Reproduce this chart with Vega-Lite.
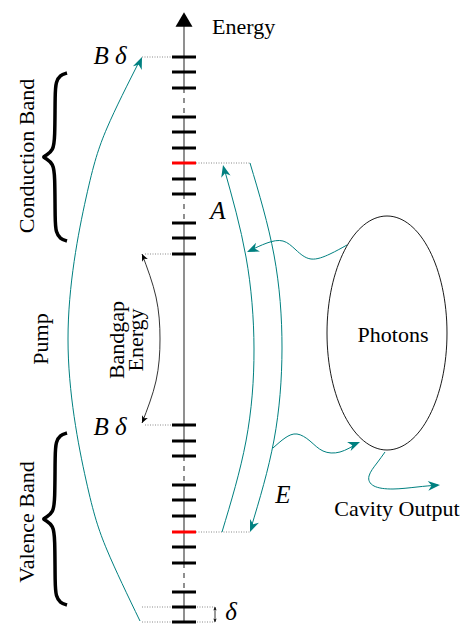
{
  "$schema": "https://vega.github.io/schema/vega-lite/v6.json",
  "width": 471,
  "height": 624,
  "padding": 0,
  "autosize": {"type": "none"},
  "background": "white",
  "config": {"view": {"stroke": null}},
  "datasets": {
    "axisSegs": [
      {"y": 24, "y2": 88, "seg": "solid"},
      {"y": 88, "y2": 117, "seg": "dashed"},
      {"y": 117, "y2": 194, "seg": "solid"},
      {"y": 194, "y2": 223, "seg": "dashed"},
      {"y": 223, "y2": 456, "seg": "solid"},
      {"y": 456, "y2": 485, "seg": "dashed"},
      {"y": 485, "y2": 563, "seg": "solid"},
      {"y": 563, "y2": 592, "seg": "dashed"},
      {"y": 592, "y2": 623, "seg": "solid"}
    ],
    "levels": [
      {"y": 57, "kind": "level"}, {"y": 72, "kind": "level"}, {"y": 88, "kind": "level"},
      {"y": 117, "kind": "level"}, {"y": 132, "kind": "level"}, {"y": 148, "kind": "level"},
      {"y": 163, "kind": "fermi"}, {"y": 179, "kind": "level"}, {"y": 194, "kind": "level"},
      {"y": 223, "kind": "level"}, {"y": 238, "kind": "level"}, {"y": 254, "kind": "level"},
      {"y": 425, "kind": "level"}, {"y": 441, "kind": "level"}, {"y": 456, "kind": "level"},
      {"y": 485, "kind": "level"}, {"y": 500, "kind": "level"}, {"y": 516, "kind": "level"},
      {"y": 532, "kind": "fermi"}, {"y": 547, "kind": "level"}, {"y": 563, "kind": "level"},
      {"y": 592, "kind": "level"}, {"y": 607, "kind": "level"}, {"y": 622, "kind": "level"}
    ],
    "guides": [
      {"x": 142, "x2": 172, "y": 57},
      {"x": 196, "x2": 250, "y": 163},
      {"x": 145, "x2": 172, "y": 254},
      {"x": 145, "x2": 172, "y": 425},
      {"x": 196, "x2": 250, "y": 532},
      {"x": 142, "x2": 215, "y": 607},
      {"x": 142, "x2": 215, "y": 622}
    ],
    "tealCurves": [
      {"id": "pump", "i": 0, "x": 140, "y": 621},
      {"id": "pump", "i": 1, "x": 107, "y": 550},
      {"id": "pump", "i": 2, "x": 86, "y": 480},
      {"id": "pump", "i": 3, "x": 68, "y": 339},
      {"id": "pump", "i": 4, "x": 86, "y": 198},
      {"id": "pump", "i": 5, "x": 107, "y": 128},
      {"id": "pump", "i": 6, "x": 140, "y": 60},
      {"id": "A", "i": 0, "x": 222, "y": 532},
      {"id": "A", "i": 1, "x": 246, "y": 441},
      {"id": "A", "i": 2, "x": 254, "y": 349},
      {"id": "A", "i": 3, "x": 246, "y": 257},
      {"id": "A", "i": 4, "x": 224, "y": 168},
      {"id": "E", "i": 0, "x": 250, "y": 163},
      {"id": "E", "i": 1, "x": 274, "y": 255},
      {"id": "E", "i": 2, "x": 282, "y": 348},
      {"id": "E", "i": 3, "x": 274, "y": 440},
      {"id": "E", "i": 4, "x": 251, "y": 528},
      {"id": "w1", "i": 0, "x": 347, "y": 245},
      {"id": "w1", "i": 1, "x": 330, "y": 254},
      {"id": "w1", "i": 2, "x": 311, "y": 259},
      {"id": "w1", "i": 3, "x": 296, "y": 250},
      {"id": "w1", "i": 4, "x": 283, "y": 241},
      {"id": "w1", "i": 5, "x": 267, "y": 243},
      {"id": "w1", "i": 6, "x": 249, "y": 251},
      {"id": "w2", "i": 0, "x": 273, "y": 448},
      {"id": "w2", "i": 1, "x": 285, "y": 438},
      {"id": "w2", "i": 2, "x": 297, "y": 434},
      {"id": "w2", "i": 3, "x": 310, "y": 441},
      {"id": "w2", "i": 4, "x": 323, "y": 451},
      {"id": "w2", "i": 5, "x": 340, "y": 452},
      {"id": "w2", "i": 6, "x": 358, "y": 443},
      {"id": "w3", "i": 0, "x": 385, "y": 452},
      {"id": "w3", "i": 1, "x": 377, "y": 463},
      {"id": "w3", "i": 2, "x": 369, "y": 476},
      {"id": "w3", "i": 3, "x": 374, "y": 486},
      {"id": "w3", "i": 4, "x": 393, "y": 489},
      {"id": "w3", "i": 5, "x": 417, "y": 487},
      {"id": "w3", "i": 6, "x": 438, "y": 485}
    ],
    "tealHeads": [
      {"x": 142, "y": 57, "dir": 293},
      {"x": 223, "y": 165, "dir": 256},
      {"x": 250, "y": 532, "dir": 112},
      {"x": 247, "y": 252, "dir": 156},
      {"x": 360, "y": 442, "dir": 338},
      {"x": 440, "y": 485, "dir": 356}
    ],
    "gapCurve": [
      {"i": 0, "x": 142, "y": 254},
      {"i": 1, "x": 156, "y": 297},
      {"i": 2, "x": 160, "y": 339},
      {"i": 3, "x": 156, "y": 381},
      {"i": 4, "x": 142, "y": 423}
    ],
    "blackHeads": [
      {"x": 142, "y": 254, "dir": 245},
      {"x": 142, "y": 423, "dir": 115}
    ],
    "deltaHeads": [
      {"x": 215, "y": 607, "dir": 270},
      {"x": 215, "y": 622, "dir": 90}
    ],
    "braces": [
      {"id": "cb", "i": 0, "x": 67, "y": 73},
      {"id": "cb", "i": 1, "x": 60, "y": 75},
      {"id": "cb", "i": 2, "x": 56, "y": 82},
      {"id": "cb", "i": 3, "x": 55, "y": 92},
      {"id": "cb", "i": 4, "x": 55, "y": 140},
      {"id": "cb", "i": 5, "x": 53, "y": 150},
      {"id": "cb", "i": 6, "x": 47, "y": 155},
      {"id": "cb", "i": 7, "x": 42, "y": 157},
      {"id": "cb", "i": 8, "x": 47, "y": 159},
      {"id": "cb", "i": 9, "x": 53, "y": 164},
      {"id": "cb", "i": 10, "x": 55, "y": 174},
      {"id": "cb", "i": 11, "x": 55, "y": 222},
      {"id": "cb", "i": 12, "x": 56, "y": 232},
      {"id": "cb", "i": 13, "x": 60, "y": 239},
      {"id": "cb", "i": 14, "x": 67, "y": 241},
      {"id": "vb", "i": 0, "x": 67, "y": 433},
      {"id": "vb", "i": 1, "x": 60, "y": 435},
      {"id": "vb", "i": 2, "x": 56, "y": 442},
      {"id": "vb", "i": 3, "x": 55, "y": 452},
      {"id": "vb", "i": 4, "x": 55, "y": 502},
      {"id": "vb", "i": 5, "x": 53, "y": 512},
      {"id": "vb", "i": 6, "x": 47, "y": 517},
      {"id": "vb", "i": 7, "x": 42, "y": 519},
      {"id": "vb", "i": 8, "x": 47, "y": 521},
      {"id": "vb", "i": 9, "x": 53, "y": 526},
      {"id": "vb", "i": 10, "x": 55, "y": 536},
      {"id": "vb", "i": 11, "x": 55, "y": 586},
      {"id": "vb", "i": 12, "x": 56, "y": 596},
      {"id": "vb", "i": 13, "x": 60, "y": 603},
      {"id": "vb", "i": 14, "x": 67, "y": 605}
    ],
    "photons": [{"x": 387, "y": 333}],
    "axisTip": [{"x": 184, "y": 19.5}],
    "leftText": [
      {"text": "Energy", "x": 212, "y": 27}
    ],
    "plainText": [
      {"text": "Photons", "x": 393, "y": 335},
      {"text": "Cavity Output", "x": 397, "y": 509}
    ],
    "italicText": [
      {"text": "B δ", "x": 110, "y": 56},
      {"text": "B δ", "x": 110, "y": 427},
      {"text": "A", "x": 218, "y": 211},
      {"text": "E", "x": 283, "y": 495},
      {"text": "δ", "x": 231, "y": 612}
    ],
    "rotText": [
      {"text": "Conduction Band", "x": 27, "y": 156},
      {"text": "Pump", "x": 41, "y": 339},
      {"text": "Valence Band", "x": 27, "y": 522},
      {"text": "Bandgap", "x": 117, "y": 340},
      {"text": "Energy", "x": 136, "y": 340}
    ]
  },
  "layer": [
    {
      "data": {"name": "guides"},
      "mark": {"type": "rule", "color": "#8a8a8a", "strokeWidth": 1, "strokeDash": [1, 1.5]},
      "encoding": {
        "x": {"field": "x", "type": "quantitative", "scale": {"domain": [0, 471], "nice": false, "zero": false}, "axis": null},
        "x2": {"field": "x2"},
        "y": {"field": "y", "type": "quantitative", "scale": {"domain": [0, 624], "nice": false, "zero": false, "reverse": true}, "axis": null}
      }
    },
    {
      "data": {"name": "axisSegs"},
      "mark": {"type": "rule", "color": "#555555", "strokeWidth": 1.3},
      "encoding": {
        "x": {"datum": 184, "type": "quantitative", "scale": {"domain": [0, 471], "nice": false, "zero": false}, "axis": null},
        "y": {"field": "y", "type": "quantitative", "scale": {"domain": [0, 624], "nice": false, "zero": false, "reverse": true}, "axis": null},
        "y2": {"field": "y2"},
        "strokeDash": {"field": "seg", "type": "nominal", "scale": {"domain": ["solid", "dashed"], "range": [[1, 0], [5, 5]]}, "legend": null}
      }
    },
    {
      "data": {"name": "axisTip"},
      "mark": {"type": "point", "shape": "triangle-up", "size": 289, "filled": true, "color": "black", "opacity": 1},
      "encoding": {
        "x": {"field": "x", "type": "quantitative", "scale": {"domain": [0, 471], "nice": false, "zero": false}, "axis": null},
        "y": {"field": "y", "type": "quantitative", "scale": {"domain": [0, 624], "nice": false, "zero": false, "reverse": true}, "axis": null}
      }
    },
    {
      "data": {"name": "levels"},
      "mark": {"type": "rule", "strokeWidth": 3},
      "encoding": {
        "x": {"datum": 172, "type": "quantitative", "scale": {"domain": [0, 471], "nice": false, "zero": false}, "axis": null},
        "x2": {"datum": 196},
        "y": {"field": "y", "type": "quantitative", "scale": {"domain": [0, 624], "nice": false, "zero": false, "reverse": true}, "axis": null},
        "color": {"field": "kind", "type": "nominal", "scale": {"domain": ["level", "fermi"], "range": ["black", "#ff0000"]}, "legend": null}
      }
    },
    {
      "data": {"name": "tealCurves"},
      "mark": {"type": "line", "interpolate": "natural", "color": "#008080", "strokeWidth": 1},
      "encoding": {
        "x": {"field": "x", "type": "quantitative", "scale": {"domain": [0, 471], "nice": false, "zero": false}, "axis": null},
        "y": {"field": "y", "type": "quantitative", "scale": {"domain": [0, 624], "nice": false, "zero": false, "reverse": true}, "axis": null},
        "detail": {"field": "id"},
        "order": {"field": "i", "type": "quantitative"}
      }
    },
    {
      "data": {"name": "gapCurve"},
      "mark": {"type": "line", "interpolate": "natural", "color": "black", "strokeWidth": 0.8},
      "encoding": {
        "x": {"field": "x", "type": "quantitative", "scale": {"domain": [0, 471], "nice": false, "zero": false}, "axis": null},
        "y": {"field": "y", "type": "quantitative", "scale": {"domain": [0, 624], "nice": false, "zero": false, "reverse": true}, "axis": null},
        "order": {"field": "i", "type": "quantitative"}
      }
    },
    {
      "data": {"name": "braces"},
      "mark": {"type": "line", "interpolate": "basis", "color": "black", "strokeWidth": 3.5},
      "encoding": {
        "x": {"field": "x", "type": "quantitative", "scale": {"domain": [0, 471], "nice": false, "zero": false}, "axis": null},
        "y": {"field": "y", "type": "quantitative", "scale": {"domain": [0, 624], "nice": false, "zero": false, "reverse": true}, "axis": null},
        "detail": {"field": "id"},
        "order": {"field": "i", "type": "quantitative"}
      }
    },
    {
      "data": {"name": "tealHeads"},
      "mark": {"type": "point", "shape": "M0,0 L-2,-0.8 L-1.4,0 L-2,0.8 Z", "size": 144, "filled": true, "color": "#008080", "opacity": 1},
      "encoding": {
        "x": {"field": "x", "type": "quantitative", "scale": {"domain": [0, 471], "nice": false, "zero": false}, "axis": null},
        "y": {"field": "y", "type": "quantitative", "scale": {"domain": [0, 624], "nice": false, "zero": false, "reverse": true}, "axis": null},
        "angle": {"field": "dir", "type": "quantitative", "scale": null}
      }
    },
    {
      "data": {"name": "blackHeads"},
      "mark": {"type": "point", "shape": "M0,0 L-2,-0.9 L-1.5,0 L-2,0.9 Z", "size": 49, "filled": true, "color": "black", "opacity": 1},
      "encoding": {
        "x": {"field": "x", "type": "quantitative", "scale": {"domain": [0, 471], "nice": false, "zero": false}, "axis": null},
        "y": {"field": "y", "type": "quantitative", "scale": {"domain": [0, 624], "nice": false, "zero": false, "reverse": true}, "axis": null},
        "angle": {"field": "dir", "type": "quantitative", "scale": null}
      }
    },
    {
      "data": {"name": "deltaHeads"},
      "mark": {"type": "rule", "color": "black", "strokeWidth": 0.8},
      "encoding": {
        "x": {"field": "x", "type": "quantitative", "scale": {"domain": [0, 471], "nice": false, "zero": false}, "axis": null},
        "y": {"aggregate": "min", "field": "y", "type": "quantitative", "scale": {"domain": [0, 624], "nice": false, "zero": false, "reverse": true}, "axis": null},
        "y2": {"aggregate": "max", "field": "y"}
      }
    },
    {
      "data": {"name": "deltaHeads"},
      "mark": {"type": "point", "shape": "M0,0 L-2,-1 L-1.5,0 L-2,1 Z", "size": 12, "filled": true, "color": "black", "opacity": 1},
      "encoding": {
        "x": {"field": "x", "type": "quantitative", "scale": {"domain": [0, 471], "nice": false, "zero": false}, "axis": null},
        "y": {"field": "y", "type": "quantitative", "scale": {"domain": [0, 624], "nice": false, "zero": false, "reverse": true}, "axis": null},
        "angle": {"field": "dir", "type": "quantitative", "scale": null}
      }
    },
    {
      "data": {"name": "photons"},
      "mark": {"type": "point", "shape": "M0,-1 C0.2832,-1 0.5128,-0.5523 0.5128,0 C0.5128,0.5523 0.2832,1 0,1 C-0.2832,1 -0.5128,0.5523 -0.5128,0 C-0.5128,-0.5523 -0.2832,-1 0,-1 Z", "size": 54756, "filled": false, "color": "black", "strokeWidth": 0.9, "opacity": 1},
      "encoding": {
        "x": {"field": "x", "type": "quantitative", "scale": {"domain": [0, 471], "nice": false, "zero": false}, "axis": null},
        "y": {"field": "y", "type": "quantitative", "scale": {"domain": [0, 624], "nice": false, "zero": false, "reverse": true}, "axis": null}
      }
    },
    {
      "data": {"name": "leftText"},
      "mark": {"type": "text", "font": "Liberation Serif", "fontSize": 22, "baseline": "middle", "align": "left", "color": "black"},
      "encoding": {
        "x": {"field": "x", "type": "quantitative", "scale": {"domain": [0, 471], "nice": false, "zero": false}, "axis": null},
        "y": {"field": "y", "type": "quantitative", "scale": {"domain": [0, 624], "nice": false, "zero": false, "reverse": true}, "axis": null},
        "text": {"field": "text"}
      }
    },
    {
      "data": {"name": "plainText"},
      "mark": {"type": "text", "font": "Liberation Serif", "fontSize": 22, "baseline": "middle", "align": "center", "color": "black"},
      "encoding": {
        "x": {"field": "x", "type": "quantitative", "scale": {"domain": [0, 471], "nice": false, "zero": false}, "axis": null},
        "y": {"field": "y", "type": "quantitative", "scale": {"domain": [0, 624], "nice": false, "zero": false, "reverse": true}, "axis": null},
        "text": {"field": "text"}
      }
    },
    {
      "data": {"name": "italicText"},
      "mark": {"type": "text", "font": "Liberation Serif", "fontStyle": "italic", "fontSize": 25, "baseline": "middle", "align": "center", "color": "black"},
      "encoding": {
        "x": {"field": "x", "type": "quantitative", "scale": {"domain": [0, 471], "nice": false, "zero": false}, "axis": null},
        "y": {"field": "y", "type": "quantitative", "scale": {"domain": [0, 624], "nice": false, "zero": false, "reverse": true}, "axis": null},
        "text": {"field": "text"}
      }
    },
    {
      "data": {"name": "rotText"},
      "mark": {"type": "text", "font": "Liberation Serif", "fontSize": 22, "baseline": "middle", "align": "center", "angle": 270, "color": "black"},
      "encoding": {
        "x": {"field": "x", "type": "quantitative", "scale": {"domain": [0, 471], "nice": false, "zero": false}, "axis": null},
        "y": {"field": "y", "type": "quantitative", "scale": {"domain": [0, 624], "nice": false, "zero": false, "reverse": true}, "axis": null},
        "text": {"field": "text"}
      }
    }
  ]
}
